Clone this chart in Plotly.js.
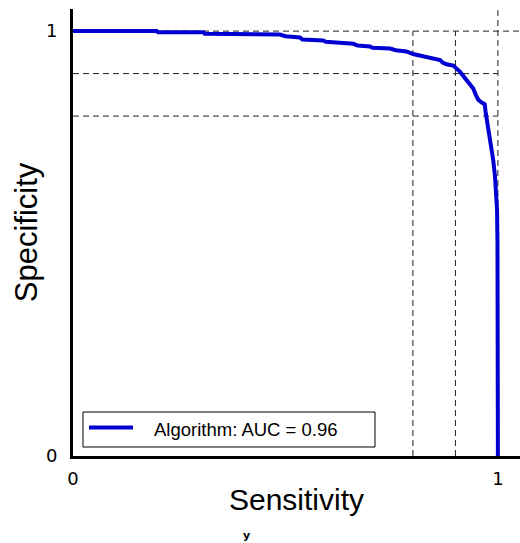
<!DOCTYPE html>
<html>
<head>
<meta charset="utf-8">
<script src="https://cdn.plot.ly/plotly-3.0.1.min.js"></script>
<style>html,body{margin:0;padding:0;background:#fff;}#chart{width:520px;height:543px;}</style>
</head>
<body>
<div id="chart"></div>
<script>
// Data
const sensitivity = [0, 0.197, 0.2, 0.307, 0.31, 0.487, 0.5, 0.534, 0.54, 0.589, 0.595, 0.66, 0.67, 0.699, 0.705, 0.746, 0.76, 0.785, 0.8, 0.809, 0.82, 0.84, 0.845, 0.864, 0.87, 0.879, 0.895, 0.905, 0.911, 0.926, 0.935, 0.942, 0.948, 0.954, 0.962, 0.969, 0.971, 0.973, 0.977, 0.981, 0.985, 0.989, 0.993, 0.995, 0.997, 0.998, 0.999, 0.999, 1, 1];
const specificity = [1, 1, 0.997, 0.997, 0.994, 0.992, 0.988, 0.985, 0.98, 0.978, 0.975, 0.97, 0.966, 0.964, 0.961, 0.959, 0.955, 0.952, 0.946, 0.944, 0.94, 0.937, 0.934, 0.932, 0.926, 0.922, 0.919, 0.91, 0.904, 0.885, 0.872, 0.865, 0.85, 0.838, 0.832, 0.828, 0.81, 0.798, 0.77, 0.744, 0.72, 0.696, 0.66, 0.634, 0.6, 0.579, 0.5, 0.406, 0.398, 0];
const seriesName = "Algorithm: AUC = 0.96";
const refSens = [0.8, 0.9];
const refSpec = [0.8, 0.9];
const tickVals = [0, 1];
const tickText = ["0", "1"];

const axisMax = 1.052;
const lineColor = "#0000d2";
const dashStyle = {color: "#222", width: 1, dash: "6px,4px"};
const shapes = [];
refSpec.forEach(v => shapes.push({type: "line", xref: "x", yref: "y", x0: 0, x1: 1, y0: v, y1: v, line: dashStyle, layer: "below"}));
refSens.forEach(v => shapes.push({type: "line", xref: "x", yref: "y", x0: v, x1: v, y0: 0, y1: 1, line: dashStyle, layer: "below"}));
shapes.push({type: "line", xref: "x", yref: "y", x0: 0, x1: axisMax, y0: 1, y1: 1, line: dashStyle, layer: "below"});
shapes.push({type: "line", xref: "x", yref: "y", x0: 1, x1: 1, y0: 0, y1: axisMax, line: dashStyle, layer: "below"});

// legend box (paper coordinates of a 447x447 plot area)
const px = X => (X - 73) / 447;
const py = Y => (456 - Y) / 447;
shapes.push({type: "rect", xref: "paper", yref: "paper", x0: px(83), x1: px(375), y0: py(447), y1: py(412), line: {color: "#000", width: 1}, fillcolor: "#fff", layer: "above"});
shapes.push({type: "line", xref: "paper", yref: "paper", x0: px(89), x1: px(133), y0: py(427.5), y1: py(427.5), line: {color: lineColor, width: 4}, layer: "above"});

const trace = {
  x: sensitivity, y: specificity, type: "scatter", mode: "lines",
  name: seriesName, showlegend: false,
  line: {color: lineColor, width: 4}
};

const layout = {
  width: 520, height: 543,
  margin: {l: 73, r: 0, t: 9, b: 87},
  paper_bgcolor: "#fff", plot_bgcolor: "#fff",
  showlegend: false,
  xaxis: {
    range: [0, axisMax], showgrid: false, zeroline: false,
    showline: true, linecolor: "#000", linewidth: 3,
    tickvals: tickVals, ticktext: tickText, ticks: "", ticklabelstandoff: 4,
    tickfont: {family: "DejaVu Sans, sans-serif", size: 18, color: "#000"},
    title: {text: "Sensitivity", standoff: 2, font: {family: "Liberation Sans, Arial, sans-serif", size: 30, color: "#000"}}
  },
  yaxis: {
    range: [0, axisMax], showgrid: false, zeroline: false,
    showline: true, linecolor: "#000", linewidth: 3,
    tickvals: tickVals, ticktext: tickText, ticks: "", ticklabelstandoff: 9,
    tickfont: {family: "DejaVu Sans, sans-serif", size: 18, color: "#000"},
    title: {text: "Specificity", standoff: 0, font: {family: "Liberation Sans, Arial, sans-serif", size: 31, color: "#000"}}
  },
  shapes: shapes,
  annotations: [{
    text: seriesName, xref: "paper", yref: "paper", x: px(152), y: py(429),
    xanchor: "left", yanchor: "middle", showarrow: false,
    font: {family: "Liberation Sans, Arial, sans-serif", size: 18.5, color: "#000"}
  }, {
    text: "<b>y</b>", xref: "paper", yref: "paper", x: px(246), y: py(535),
    xanchor: "center", yanchor: "middle", showarrow: false,
    font: {family: "DejaVu Sans, sans-serif", size: 11, color: "#000"}
  }]
};

Plotly.newPlot("chart", [trace], layout, {displayModeBar: false, staticPlot: true});
</script>
</body>
</html>
